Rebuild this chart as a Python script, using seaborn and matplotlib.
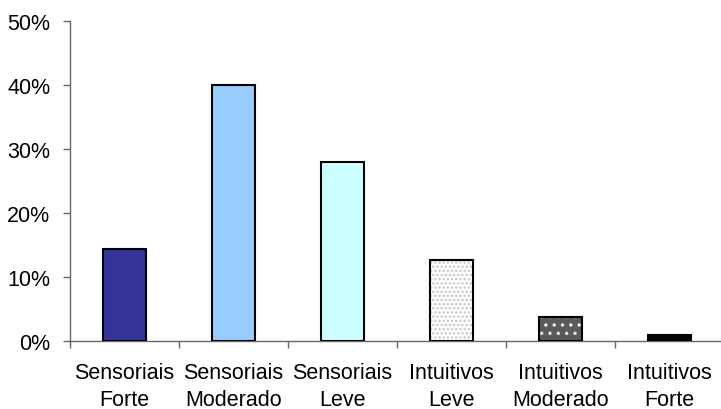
import numpy as np
import pandas as pd
import matplotlib
matplotlib.use("Agg")
import matplotlib.pyplot as plt
import seaborn as sns
from matplotlib.ticker import FuncFormatter, FixedLocator

categorias = ["Sensoriais\nForte", "Sensoriais\nModerado", "Sensoriais\nLeve",
              "Intuitivos\nLeve", "Intuitivos\nModerado", "Intuitivos\nForte"]
percentuais = [14.4, 40.0, 28.0, 12.6, 3.7, 0.9]
cores = ["#333399", "#99CCFF", "#CCFFFF", "#FFFFFF", "#5a5a5a", "#000000"]

sns.set_style("white")
plt.rcParams["font.family"] = ["Liberation Sans", "DejaVu Sans"]
plt.rcParams["hatch.linewidth"] = 1.2

dados = pd.DataFrame({"perfil": categorias, "pct": percentuais})

fig = plt.figure(figsize=(7.21, 4.10), dpi=100)
ax = fig.add_axes([0.097, 0.166, 0.907, 0.78])

sns.barplot(data=dados, x="perfil", y="pct", hue="perfil", palette=cores,
            width=0.4, legend=False, ax=ax, saturation=1, linewidth=0)

# padrões pontilhados nas barras "Intuitivos Leve" e "Intuitivos Moderado"
ax.patches[3].set_hatch("....")
ax.patches[3].set_edgecolor("#c8c8c8")
ax.patches[4].set_hatch("..")
ax.patches[4].set_edgecolor("#f0f0f0")
for p in ax.patches:
    p.set_linewidth(0)

# contorno preto
ax.bar(np.arange(len(categorias)), percentuais, width=0.4, fill=False,
       edgecolor="black", linewidth=1.5, zorder=3)

ax.set_ylim(0, 50)
ax.set_xlim(-0.5, 5.5)
ax.set_yticks([0, 10, 20, 30, 40, 50])
ax.yaxis.set_major_formatter(FuncFormatter(lambda v, _: f"{v:.0f}%"))
ax.xaxis.set_minor_locator(FixedLocator(np.arange(-0.5, 6, 1)))

ax.set_xlabel("")
ax.set_ylabel("")
ax.tick_params(axis="y", which="major", length=5, width=1, color="#666666",
               direction="out", left=True, labelsize=15.5, pad=9,
               labelcolor="black")
ax.tick_params(axis="x", which="major", length=0, labelsize=15.5, pad=15,
               labelcolor="black")
ax.tick_params(axis="x", which="minor", length=5, width=1, color="#666666",
               direction="out", bottom=True)
for lab in ax.get_xticklabels():
    lab.set_linespacing(1.4)

for s in ["top", "right"]:
    ax.spines[s].set_visible(False)
for s in ["left", "bottom"]:
    ax.spines[s].set_color("#666666")
    ax.spines[s].set_linewidth(1)

fig.savefig("out.png", dpi=100)
